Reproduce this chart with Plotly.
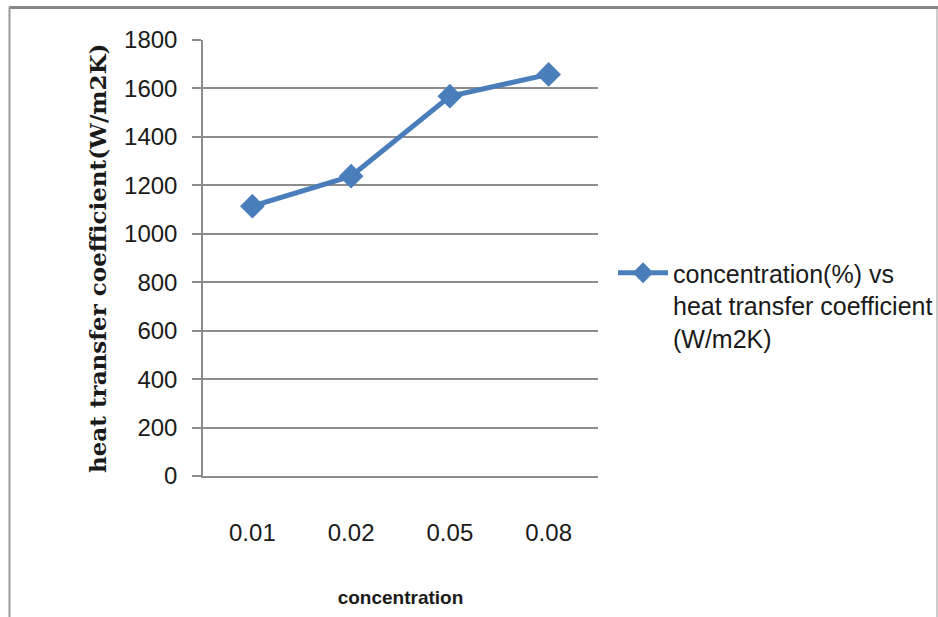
import plotly.graph_objects as go

categories = ["0.01", "0.02", "0.05", "0.08"]
htc_values = [1114, 1238, 1568, 1658]
y_ticks = [0, 200, 400, 600, 800, 1000, 1200, 1400, 1600, 1800]

W, H = 938, 617
ML, MR, MT, MB = 203, 340, 40, 141
PW = W - ML - MR
PH = H - MT - MB

def px(x):
    return (x - ML) / PW

def py(y):
    return (H - MB - y) / PH

SANS = "Liberation Sans Narrow, Arial Narrow, Liberation Sans, sans-serif"
BLUE = "#4a7ebb"
GRID = "#8c8c8c"
TXT = "#1a1a1a"

fig = go.Figure()
fig.add_trace(go.Scatter(
    x=categories, y=htc_values, mode="lines+markers",
    name="concentration(%) vs<br>heat transfer coefficient<br>(W/m2K)",
    line=dict(color=BLUE, width=5),
    marker=dict(symbol="diamond", size=19, color=BLUE),
))

fig.update_layout(
    width=W, height=H,
    margin=dict(l=ML, r=MR, t=MT, b=MB, autoexpand=False),
    paper_bgcolor="white", plot_bgcolor="white",
    font=dict(family=SANS, size=25, color=TXT),
    showlegend=True,
    legend=dict(x=px(613), y=py(250), xanchor="left", yanchor="top",
                valign="top", itemwidth=50,
                font=dict(family=SANS, size=25, color=TXT),
                bgcolor="rgba(0,0,0,0)", tracegroupgap=0),
    xaxis=dict(type="category", range=[-0.5, 3.5], showgrid=False,
               showline=True, linecolor=GRID, linewidth=1.5,
               ticks="", ticklabelstandoff=34,
               tickfont=dict(family=SANS, size=24, color=TXT),
               title=dict(text="<b>concentration</b>", standoff=46,
                          font=dict(family=SANS, size=19, color=TXT)),
               zeroline=False),
    yaxis=dict(range=[0, 1800], tickvals=y_ticks, showgrid=True,
               gridcolor=GRID, gridwidth=1.5,
               showline=True, linecolor=GRID, linewidth=1.5,
               ticks="outside", ticklen=9, tickcolor=GRID, tickwidth=1.5,
               ticklabelstandoff=10,
               tickfont=dict(family=SANS, size=24, color=TXT),
               zeroline=False),
    annotations=[dict(
        text="<b>heat transfer coefficient(W/m2K)</b>",
        x=px(97), y=0.5, xref="paper", yref="paper",
        xanchor="center", yanchor="middle", textangle=-90, showarrow=False,
        font=dict(family="DejaVu Serif, Liberation Serif, serif", size=23, color=TXT),
    )],
    shapes=[
        dict(type="line", xref="paper", yref="paper", x0=px(9), x1=px(938), y0=py(7.5), y1=py(7.5),
             line=dict(color="#878787", width=3)),
        dict(type="line", xref="paper", yref="paper", x0=px(9.5), x1=px(9.5), y0=py(7), y1=py(620),
             line=dict(color="#9a9a9a", width=2)),
        dict(type="line", xref="paper", yref="paper", x0=px(937), x1=px(937), y0=py(9), y1=py(620),
             line=dict(color="#bcbcbc", width=1.5)),
    ],
)

fig.write_html("out.html")
